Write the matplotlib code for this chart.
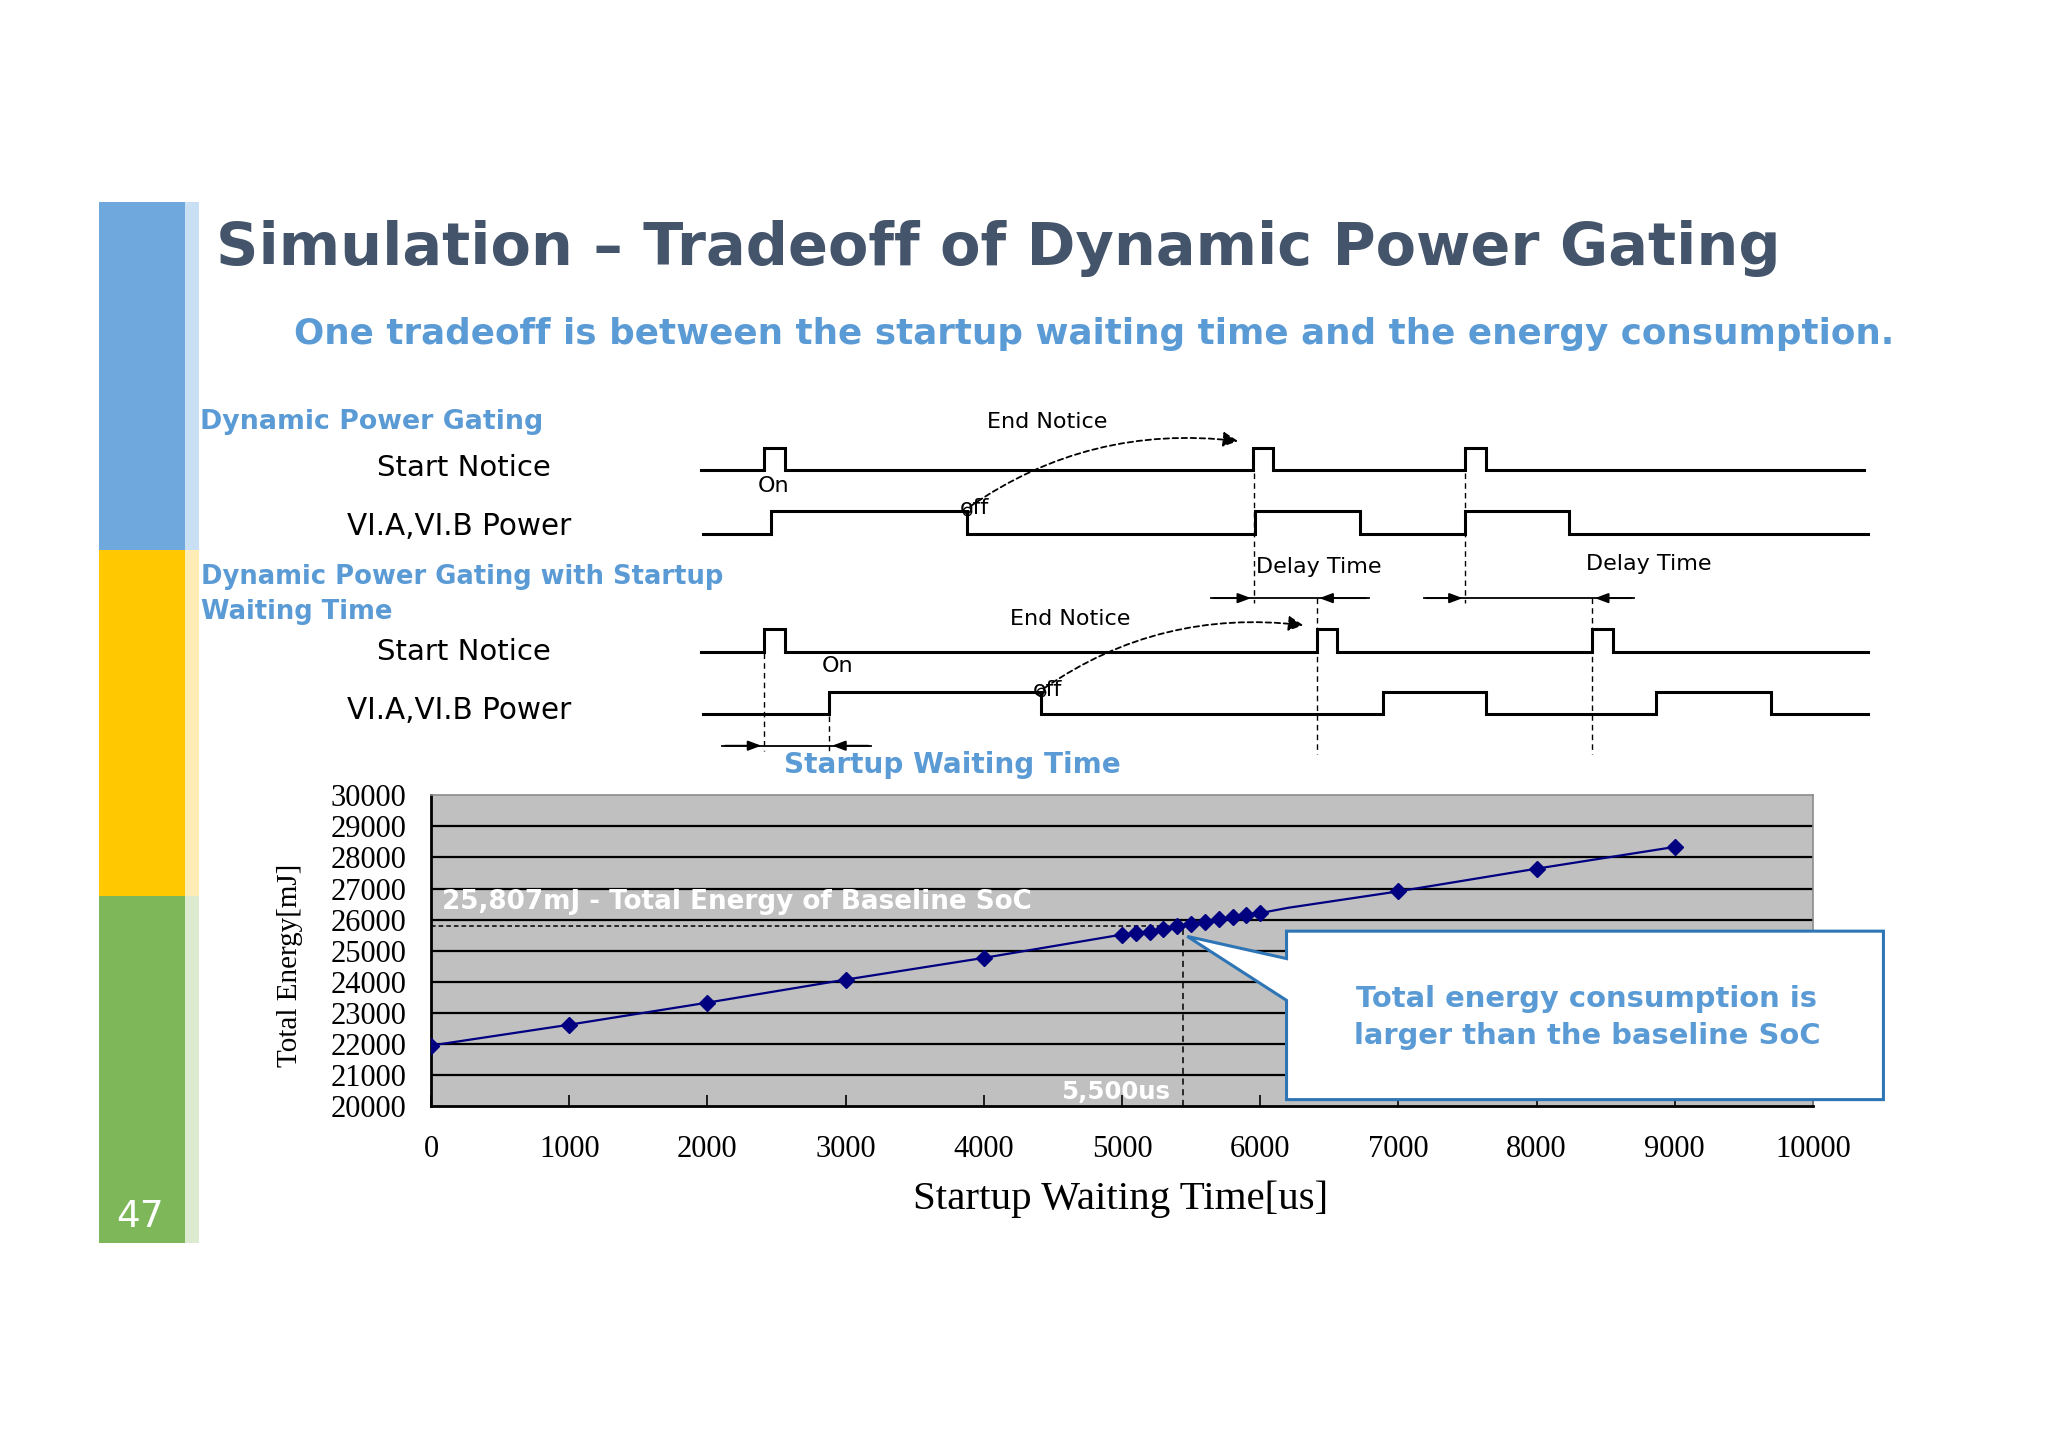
import numpy as np
import matplotlib
matplotlib.use("Agg")
import matplotlib.pyplot as plt
from matplotlib.patches import Rectangle, Polygon, FancyArrowPatch

# Datos del grafico
# ===================================================================================================
wait_time = [0, 1000, 2000, 3000, 4000, 5000, 5100, 5200, 5300, 5400, 5500,
             5600, 5700, 5800, 5900, 6000, 6200, 7000, 8000, 9000]
energy = [21950, 22620, 23330, 24070, 24770, 25520, 25570, 25610, 25700, 25780, 25860,
          25930, 26010, 26070, 26160, 26210, 26380, 26910, 27640, 28340]
marked = [i for i in range(len(wait_time)) if wait_time[i] != 6200]
baseline = 25807
crossover = 5440
x_ticks = list(range(0, 10001, 1000))
y_ticks = list(range(20000, 30001, 1000))

# Diagrama de tiempos (pulsos y tramos encendidos)
notice1_pulses = [585, 959, 1122]
power1_on = [(590, 740), (961, 1041), (1122, 1201)]
notice2_pulses = [585, 1008, 1219]
power2_on = [(635, 797), (1059, 1138), (1268, 1356)]

S = 2048 / 1568
BLUE = "#5B9BD5"
TITLE = "#44546A"
SANS = "DejaVu Sans"
SERIF = "Liberation Serif"

fig = plt.figure(figsize=(20.48, 14.47), dpi=100)
fig.patch.set_facecolor("white")

# Grafico principal
# ===================================================================================================
ax = fig.add_axes([330 / 1568, 1 - 847 / 1108, (1388 - 330) / 1568, (847 - 609) / 1108])
ax.set_facecolor("#C0C0C0")
ax.set_xlim(0, 10000)
ax.set_ylim(20000, 30000)
for v in y_ticks[1:-1]:
    ax.axhline(v, color="black", lw=1.6, zorder=1)
ax.plot(wait_time, energy, color="#000080", lw=1.6, marker="D", ms=8,
        markevery=marked, zorder=4)
ax.plot([0, crossover], [baseline, baseline], color="black", lw=1.1, ls=(0, (3, 2)), zorder=3)
ax.plot([crossover, crossover], [20000, baseline], color="black", lw=1.1, ls=(0, (4, 3)), zorder=3)
ax.set_xticks(x_ticks)
ax.set_yticks(y_ticks)
ax.tick_params(axis="x", direction="in", length=8, width=1.2, pad=21, labelsize=22)
ax.tick_params(axis="y", length=0, pad=18, labelsize=22)
for lab in ax.get_xticklabels() + ax.get_yticklabels():
    lab.set_family(SERIF)
ax.spines["left"].set_linewidth(2)
ax.spines["bottom"].set_linewidth(2)
for s in ["top", "right"]:
    ax.spines[s].set_color("#8C8C8C")
    ax.spines[s].set_linewidth(1.2)
ax.set_xlabel("Startup Waiting Time[us]", family=SERIF, fontsize=29.5, va="center")
ax.xaxis.set_label_coords(0.499, (847 - 918) / 238)
ax.set_ylabel("Total Energy[mJ]", family=SERIF, fontsize=21, va="center", ha="center")
ax.yaxis.set_label_coords((222 - 330) / 1058, (847 - 739) / 238)

t_base = ax.text(76, 26560, "25,807mJ - Total Energy of Baseline SoC", color="white",
                 fontsize=22, fontweight="bold", family=SANS, va="center", ha="left", zorder=5)
t_us = ax.text(5350, 20450, "5,500us", color="white", fontsize=20, fontweight="bold",
               family=SANS, va="center", ha="right", zorder=5)

# Capa para el resto de la diapositiva (coordenadas de pixel)
# ===================================================================================================
ov = fig.add_axes([0, 0, 1, 1])
ov.set_xlim(0, 1568)
ov.set_ylim(1108, 0)
ov.axis("off")

# barra lateral de colores
bars = [(155, 421, "#6FA8DC", "#C9DFF3"), (421, 686, "#FFC800", "#FFEDB5"),
        (686, 952, "#7EB75A", "#DCEBD0")]
for y0, y1, c, c2 in bars:
    ov.add_patch(Rectangle((76, y0), 66, y1 - y0, color=c, lw=0))
    ov.add_patch(Rectangle((142, y0), 10, y1 - y0, color=c2, lw=0))
ov.text(107, 932, "47", color="white", fontsize=27, family=SANS, ha="center", va="center")

r = fig.canvas.get_renderer()


def fit(t, w):
    bb = t.get_window_extent(renderer=r)
    t.set_fontsize(t.get_fontsize() * w * S / bb.width)


t1 = ov.text(165, 190, "Simulation \u2013 Tradeoff of Dynamic Power Gating", color=TITLE,
             fontsize=40, fontweight="bold", family=SANS, va="center", ha="left")
fit(t1, 1362 - 165)
t2 = ov.text(225, 256, "One tradeoff is between the startup waiting time and the energy consumption.",
             color=BLUE, fontsize=28, fontweight="bold", family=SANS, va="center", ha="left")
fit(t2, 1450 - 225)

# etiquetas del diagrama
t3 = ov.text(153, 323, "Dynamic Power Gating", color=BLUE, fontsize=20, fontweight="bold",
             family=SANS, va="center")
fit(t3, 415 - 153)
t4 = ov.text(154, 455, "Dynamic Power Gating with Startup\nWaiting Time", color=BLUE, fontsize=20,
             fontweight="bold", family=SANS, va="center", linespacing=1.45)
fit(t4, 555 - 154)
for yy, txt in [(358, "Start Notice"), (403, "VI.A,VI.B Power"), (499, "Start Notice"),
                (544, "VI.A,VI.B Power")]:
    t = ov.text(437 if "Power" in txt else 422, yy, txt, color="black", fontsize=21,
                family=SANS, va="center", ha="right")
    fit(t, 172 if "Power" in txt else 133)


def pulses(starts, width, x0, x1, low, high):
    xs, ys = [x0], [low]
    for s in starts:
        xs += [s, s, s + width, s + width]
        ys += [low, high, high, low]
    xs.append(x1)
    ys.append(low)
    return xs, ys


def spans(on, x0, x1, low, high):
    xs, ys = [x0], [low]
    for a, b in on:
        xs += [a, a, b, b]
        ys += [low, high, high, low]
    xs.append(x1)
    ys.append(low)
    return xs, ys


wave = dict(color="black", lw=2.2, solid_joinstyle="miter")
ov.plot(*pulses(notice1_pulses, 16, 537, 1427, 360, 343), **wave)
ov.plot(*spans(power1_on, 538, 1430, 409, 391), **wave)
ov.plot(*pulses(notice2_pulses, 16, 537, 1430, 499, 482), **wave)
ov.plot(*spans(power2_on, 538, 1430, 547, 530), **wave)

small = dict(color="black", fontsize=16, family=SANS, va="center")
ov.text(580, 372, "On", **small)
ov.text(629, 510, "On", **small)
ov.text(735, 389, "off", **small)
ov.text(791, 528, "off", **small)
ov.text(756, 323, "End Notice", **small)
ov.text(773, 474, "End Notice", **small)
ov.text(962, 434, "Delay Time", **small)
ov.text(1214, 432, "Delay Time", **small)
ov.plot([740, 797], [391, 530], ls="none", marker="o", ms=6, mfc="none", mec="black", mew=1)

for p0, p1 in [((741, 389), (950, 338)), ((798, 528), (1000, 479))]:
    ov.add_patch(FancyArrowPatch(p0, p1, connectionstyle="angle3,angleA=35,angleB=-7",
                                 arrowstyle="-|>,head_length=6,head_width=3",
                                 ls=(0, (3, 2)), lw=1.3, color="black", mutation_scale=1.5))

dash = dict(color="black", lw=1, ls=(0, (4, 3)))
ov.plot([960, 960], [362, 462], **dash)
ov.plot([1122, 1122], [362, 462], **dash)
ov.plot([1008, 1008], [458, 577], **dash)
ov.plot([1219, 1219], [458, 577], **dash)
ov.plot([585, 585], [500, 575], **dash)
ov.plot([635, 635], [548, 575], **dash)

for left, a, b, right, yy in [(927, 960, 1008, 1048, 458), (1090, 1122, 1219, 1251, 458),
                              (553, 585, 635, 667, 571)]:
    ov.plot([left, right], [yy, yy], color="black", lw=1.3)
    ov.annotate("", xy=(a, yy), xytext=(left, yy),
                arrowprops=dict(arrowstyle="-|>,head_length=0.8,head_width=0.3", color="black", lw=1.3))
    ov.annotate("", xy=(b, yy), xytext=(right, yy),
                arrowprops=dict(arrowstyle="-|>,head_length=0.8,head_width=0.3", color="black", lw=1.3))

t5 = ov.text(600, 586, "Startup Waiting Time", color=BLUE, fontsize=20, fontweight="bold",
             family=SANS, va="center")
fit(t5, 857 - 600)

# globo de comentario
ov.add_patch(Polygon([(985, 713), (1442, 713), (1442, 842), (985, 842), (985, 766),
                      (909, 717), (985, 734)], closed=True, facecolor="white",
                     edgecolor="#2E75B6", lw=2.2, joinstyle="miter", zorder=6))
t6 = ov.text(1215, 779, "Total energy consumption is\nlarger than the baseline SoC", color=BLUE,
             fontsize=22, fontweight="bold", family=SANS, va="center", ha="center",
             linespacing=1.4, zorder=7)
fit(t6, 1398 - 1041)
fit(t_base, 788 - 338)
fit(t_us, 895 - 811)

fig.savefig("out.png", dpi=100, facecolor="white")
